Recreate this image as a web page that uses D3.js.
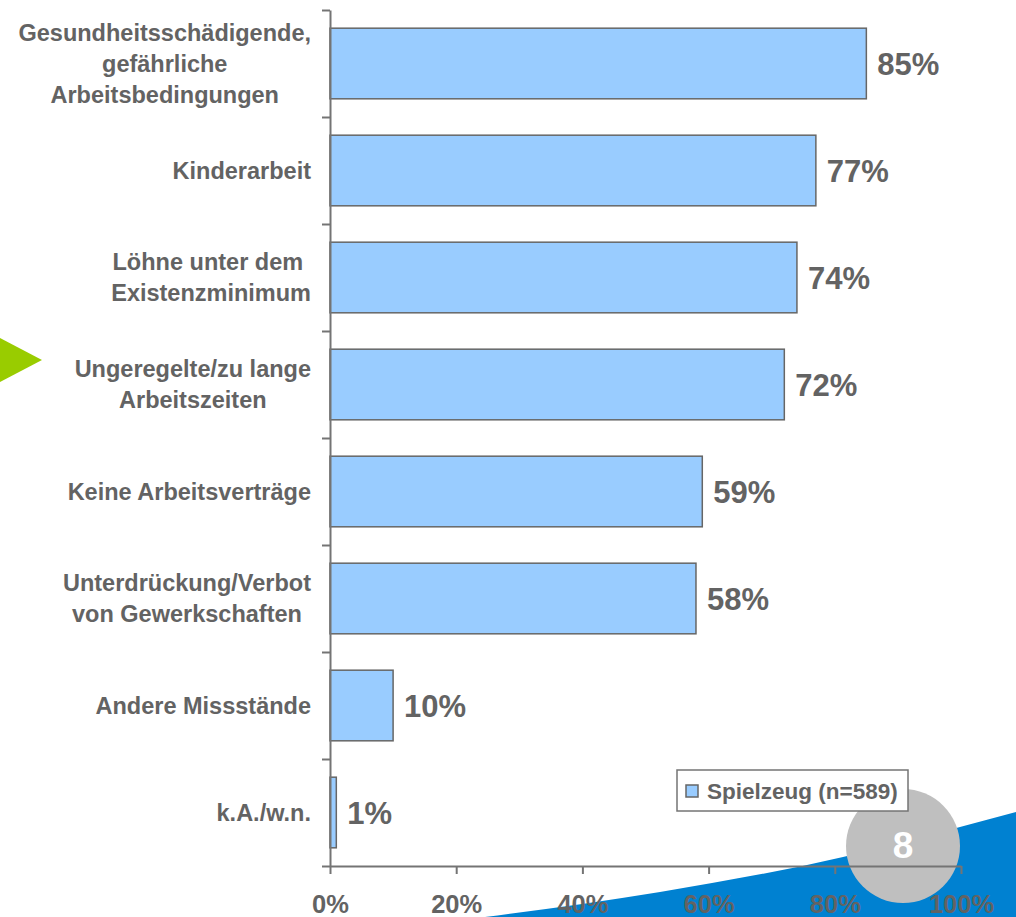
<!DOCTYPE html>
<html>
<head>
<meta charset="utf-8">
<script src="https://cdn.jsdelivr.net/npm/d3@7"></script>
<style>
  body { margin: 0; background: #fff; }
  text { font-family: "Liberation Sans", Arial, sans-serif; font-weight: bold; fill: #636363; }
</style>
</head>
<body>
<div id="chart"></div>
<script>
// categories (each entry = lines of the label)
var categories = [
  ["Gesundheitsschädigende,", "gefährliche", "Arbeitsbedingungen"],
  ["Kinderarbeit"],
  ["Löhne unter dem ", "Existenzminimum"],
  ["Ungeregelte/zu lange", "Arbeitszeiten"],
  ["Keine Arbeitsverträge"],
  ["Unterdrückung/Verbot", "von Gewerkschaften"],
  ["Andere Missstände"],
  ["k.A./w.n."]
];
var values = [0.85, 0.77, 0.74, 0.72, 0.59, 0.58, 0.10, 0.01];
var xTicks = [0, 0.2, 0.4, 0.6, 0.8, 1.0];
var seriesName = "Spielzeug (n=589)";
var pageNumber = "8";

var width = 1016, height = 917;
var axisGrey = "#747474";

var svg = d3.select("#chart").append("svg")
  .attr("width", width)
  .attr("height", height);

// background decoration: blue wedge, green arrow
var wedge = [[485, 917], [660, 892], [843, 857], [960, 827], [1016, 812]];
var wedgeLine = d3.line().curve(d3.curveMonotoneX);
svg.append("path")
  .attr("d", wedgeLine(wedge) + "L1016,917Z")
  .attr("fill", "#0081D1");

svg.append("path")
  .attr("d", "M0,338L42,360L0,382Z")
  .attr("fill", "#99CC00");

// page number circle
svg.append("circle")
  .attr("cx", 903).attr("cy", 846).attr("r", 57)
  .attr("fill", "#BFBFBF");
svg.append("text")
  .attr("x", 903).attr("y", 858)
  .attr("text-anchor", "middle")
  .style("font-size", "37px")
  .style("fill", "#fff")
  .text(pageNumber);

var x = d3.scaleLinear()
  .domain([0, 1])
  .range([330, 961]);

var y = d3.scaleBand()
  .domain(d3.range(categories.length))
  .range([10, 866])
  .paddingInner(0.34)
  .paddingOuter(0.17);

// boundaries between categories, for the y ticks
var yEdge = d3.scaleLinear()
  .domain([0, categories.length])
  .range([10, 866]);

// bars
svg.selectAll(".bar")
  .data(values)
  .enter()
  .append("rect")
  .attr("class", "bar")
  .attr("x", x(0))
  .attr("y", function(d, i) { return y(i); })
  .attr("width", function(d) { return x(d) - x(0); })
  .attr("height", y.bandwidth())
  .attr("fill", "#99CCFF")
  .attr("stroke", "#666")
  .attr("stroke-width", 1.5);

// value labels
svg.selectAll(".val")
  .data(values)
  .enter()
  .append("text")
  .attr("class", "val")
  .attr("x", function(d) { return x(d) + 11; })
  .attr("y", function(d, i) { return y(i) + y.bandwidth() / 2; })
  .attr("dy", "0.36em")
  .style("font-size", "31px")
  .text(function(d) { return Math.round(d * 100) + "%"; });

// x axis
var xAxis = svg.append("g")
  .attr("transform", "translate(0,866)")
  .call(d3.axisBottom(x)
    .tickValues(xTicks)
    .tickFormat(d3.format(".0%"))
    .tickSize(8)
    .tickSizeOuter(0)
    .tickPadding(21));
xAxis.selectAll("text").style("font-size", "25.5px").attr("fill", null);

// y axis (ticks on category edges)
svg.append("g")
  .attr("transform", "translate(330,0)")
  .call(d3.axisLeft(yEdge)
    .ticks(categories.length)
    .tickFormat("")
    .tickSize(8)
    .tickSizeOuter(0));

svg.selectAll(".domain, .tick line")
  .attr("stroke", axisGrey)
  .attr("stroke-width", 2);

// category labels: lines centred on each other, block right-aligned
var labelRight = 311, lineH = 31;
categories.forEach(function(lines, i) {
  var g = svg.append("g");
  var cy = y(i) + y.bandwidth() / 2;
  var texts = g.selectAll("text")
    .data(lines)
    .enter()
    .append("text")
    .attr("text-anchor", "middle")
    .attr("y", function(d, j) { return cy + (j - (lines.length - 1) / 2) * lineH; })
    .attr("dy", "0.36em")
    .style("font-size", "23.5px")
    .style("white-space", "pre")
    .text(function(d) { return d; });
  var w = d3.max(texts.nodes(), function(n) { return n.getComputedTextLength(); });
  texts.attr("x", labelRight - w / 2);
});

// legend
var legend = svg.append("g").attr("transform", "translate(677,770)");
legend.append("rect")
  .attr("width", 231).attr("height", 41)
  .attr("fill", "#fff")
  .attr("stroke", axisGrey)
  .attr("stroke-width", 1.5);
legend.append("rect")
  .attr("x", 9).attr("y", 15).attr("width", 12).attr("height", 12)
  .attr("fill", "#99CCFF")
  .attr("stroke", "#666")
  .attr("stroke-width", 1.5);
legend.append("text")
  .attr("x", 30).attr("y", 21)
  .attr("dy", "0.36em")
  .style("font-size", "22.5px")
  .text(seriesName);
</script>
</body>
</html>
